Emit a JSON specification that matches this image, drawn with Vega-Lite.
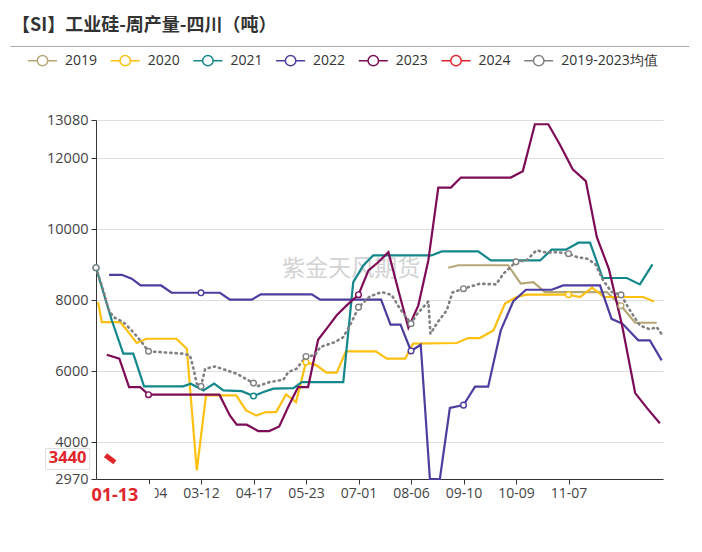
{
  "$schema": "https://vega.github.io/schema/vega-lite/v6.json",
  "width": 567,
  "height": 359,
  "autosize": {"type": "none"},
  "padding": {"left": 96, "top": 120, "right": 39, "bottom": 73},
  "background": "white",
  "config": {"view": {"stroke": null}, "font": "Open Sans"},
  "title": {
    "text": "【SI】工业硅-周产量-四川（吨）",
    "anchor": "start",
    "frame": "group",
    "font": "Noto Sans CJK SC",
    "fontSize": 18,
    "fontWeight": "bold",
    "color": "#333333",
    "dx": -84,
    "offset": 10
  },
  "datasets": {
    "series": [
      {"s": "2019", "i": 67.1, "v": 8920}, {"s": "2019", "i": 69.0, "v": 8990}, {"s": "2019", "i": 78.5, "v": 8990},
      {"s": "2019", "i": 80.9, "v": 8470}, {"s": "2019", "i": 83.3, "v": 8515}, {"s": "2019", "i": 85.5, "v": 8235},
      {"s": "2019", "i": 97.3, "v": 8235}, {"s": "2019", "i": 100, "v": 7850}, {"s": "2019", "i": 102.7, "v": 7370},
      {"s": "2019", "i": 106.8, "v": 7370},

      {"s": "2020", "i": 0.4, "v": 7950}, {"s": "2020", "i": 1.1, "v": 7390}, {"s": "2020", "i": 4.6, "v": 7390},
      {"s": "2020", "i": 5.8, "v": 7175}, {"s": "2020", "i": 7.75, "v": 6800}, {"s": "2020", "i": 9.65, "v": 6920},
      {"s": "2020", "i": 15.3, "v": 6920}, {"s": "2020", "i": 17.3, "v": 6640}, {"s": "2020", "i": 19.2, "v": 3210},
      {"s": "2020", "i": 20.95, "v": 5325}, {"s": "2020", "i": 26.7, "v": 5325}, {"s": "2020", "i": 28.6, "v": 4900},
      {"s": "2020", "i": 30.5, "v": 4760}, {"s": "2020", "i": 32.4, "v": 4855}, {"s": "2020", "i": 34.3, "v": 4855},
      {"s": "2020", "i": 36.2, "v": 5350}, {"s": "2020", "i": 38.1, "v": 5135}, {"s": "2020", "i": 40, "v": 6260},
      {"s": "2020", "i": 42.0, "v": 6170}, {"s": "2020", "i": 43.9, "v": 5965}, {"s": "2020", "i": 45.85, "v": 5965},
      {"s": "2020", "i": 47.6, "v": 6565}, {"s": "2020", "i": 53.3, "v": 6565}, {"s": "2020", "i": 55.4, "v": 6360},
      {"s": "2020", "i": 58.9, "v": 6360}, {"s": "2020", "i": 60.4, "v": 6780}, {"s": "2020", "i": 68.7, "v": 6800},
      {"s": "2020", "i": 70.9, "v": 6940}, {"s": "2020", "i": 73.1, "v": 6940}, {"s": "2020", "i": 75.7, "v": 7155},
      {"s": "2020", "i": 77.9, "v": 7910}, {"s": "2020", "i": 80.1, "v": 8095}, {"s": "2020", "i": 82.0, "v": 8160},
      {"s": "2020", "i": 90, "v": 8160}, {"s": "2020", "i": 92.2, "v": 8095}, {"s": "2020", "i": 94.5, "v": 8360},
      {"s": "2020", "i": 96.8, "v": 8095}, {"s": "2020", "i": 104.2, "v": 8095}, {"s": "2020", "i": 106.3, "v": 7970},

      {"s": "2021", "i": 0, "v": 8920}, {"s": "2021", "i": 3.0, "v": 7440}, {"s": "2021", "i": 5.2, "v": 6500},
      {"s": "2021", "i": 7.1, "v": 6500}, {"s": "2021", "i": 9.15, "v": 5580}, {"s": "2021", "i": 16.6, "v": 5580},
      {"s": "2021", "i": 18.05, "v": 5655}, {"s": "2021", "i": 20.45, "v": 5465}, {"s": "2021", "i": 22.5, "v": 5655},
      {"s": "2021", "i": 24.25, "v": 5465}, {"s": "2021", "i": 27.75, "v": 5445}, {"s": "2021", "i": 30, "v": 5305},
      {"s": "2021", "i": 31.9, "v": 5420}, {"s": "2021", "i": 33.8, "v": 5515}, {"s": "2021", "i": 37.6, "v": 5530},
      {"s": "2021", "i": 39.2, "v": 5700}, {"s": "2021", "i": 47.1, "v": 5700}, {"s": "2021", "i": 49.0, "v": 8515},
      {"s": "2021", "i": 50.9, "v": 8985}, {"s": "2021", "i": 52.8, "v": 9265}, {"s": "2021", "i": 63.9, "v": 9265},
      {"s": "2021", "i": 65.85, "v": 9380}, {"s": "2021", "i": 72.8, "v": 9380}, {"s": "2021", "i": 75.2, "v": 9125},
      {"s": "2021", "i": 84.6, "v": 9125}, {"s": "2021", "i": 86.8, "v": 9430}, {"s": "2021", "i": 89.5, "v": 9430},
      {"s": "2021", "i": 91.9, "v": 9625}, {"s": "2021", "i": 94.1, "v": 9625}, {"s": "2021", "i": 96.5, "v": 8630},
      {"s": "2021", "i": 101.1, "v": 8630}, {"s": "2021", "i": 103.6, "v": 8450}, {"s": "2021", "i": 106.0, "v": 9015},

      {"s": "2022", "i": 2.5, "v": 8720}, {"s": "2022", "i": 4.9, "v": 8720}, {"s": "2022", "i": 6.8, "v": 8610},
      {"s": "2022", "i": 8.5, "v": 8420}, {"s": "2022", "i": 12.4, "v": 8420}, {"s": "2022", "i": 14.4, "v": 8215},
      {"s": "2022", "i": 20, "v": 8215}, {"s": "2022", "i": 23.6, "v": 8215}, {"s": "2022", "i": 25.5, "v": 8020},
      {"s": "2022", "i": 29.65, "v": 8020}, {"s": "2022", "i": 31.4, "v": 8170}, {"s": "2022", "i": 41.1, "v": 8170},
      {"s": "2022", "i": 42.7, "v": 8020}, {"s": "2022", "i": 54.3, "v": 8020}, {"s": "2022", "i": 56.1, "v": 7315},
      {"s": "2022", "i": 58.0, "v": 7315}, {"s": "2022", "i": 60, "v": 6575}, {"s": "2022", "i": 61.85, "v": 6750},
      {"s": "2022", "i": 63.6, "v": 2970}, {"s": "2022", "i": 65.5, "v": 2970}, {"s": "2022", "i": 67.4, "v": 4970},
      {"s": "2022", "i": 70, "v": 5050}, {"s": "2022", "i": 72.2, "v": 5570}, {"s": "2022", "i": 74.7, "v": 5570},
      {"s": "2022", "i": 77.1, "v": 7155}, {"s": "2022", "i": 79.5, "v": 7980}, {"s": "2022", "i": 81.9, "v": 8300},
      {"s": "2022", "i": 86.8, "v": 8300}, {"s": "2022", "i": 89.0, "v": 8420}, {"s": "2022", "i": 96.0, "v": 8420},
      {"s": "2022", "i": 98.2, "v": 7480}, {"s": "2022", "i": 100.3, "v": 7340}, {"s": "2022", "i": 103.3, "v": 6875},
      {"s": "2022", "i": 105.5, "v": 6875}, {"s": "2022", "i": 107.75, "v": 6310},

      {"s": "2023", "i": 2.05, "v": 6470}, {"s": "2023", "i": 4.45, "v": 6360}, {"s": "2023", "i": 6.3, "v": 5560},
      {"s": "2023", "i": 8.4, "v": 5560}, {"s": "2023", "i": 10, "v": 5345}, {"s": "2023", "i": 23.5, "v": 5345},
      {"s": "2023", "i": 25.5, "v": 4760}, {"s": "2023", "i": 26.8, "v": 4500}, {"s": "2023", "i": 28.7, "v": 4500},
      {"s": "2023", "i": 30.9, "v": 4320}, {"s": "2023", "i": 33.0, "v": 4320}, {"s": "2023", "i": 34.9, "v": 4450},
      {"s": "2023", "i": 36.6, "v": 4995}, {"s": "2023", "i": 38.5, "v": 5560}, {"s": "2023", "i": 40.4, "v": 5560},
      {"s": "2023", "i": 42.3, "v": 6890}, {"s": "2023", "i": 43.9, "v": 7200}, {"s": "2023", "i": 45.85, "v": 7580},
      {"s": "2023", "i": 47.75, "v": 7860}, {"s": "2023", "i": 50, "v": 8160}, {"s": "2023", "i": 51.9, "v": 8845},
      {"s": "2023", "i": 53.8, "v": 9080}, {"s": "2023", "i": 55.7, "v": 9360}, {"s": "2023", "i": 57.6, "v": 8280},
      {"s": "2023", "i": 59.5, "v": 7230}, {"s": "2023", "i": 61.4, "v": 7860}, {"s": "2023", "i": 63.3, "v": 9125},
      {"s": "2023", "i": 65.2, "v": 11175}, {"s": "2023", "i": 67.6, "v": 11175}, {"s": "2023", "i": 69.5, "v": 11460},
      {"s": "2023", "i": 79.0, "v": 11460}, {"s": "2023", "i": 81.3, "v": 11640}, {"s": "2023", "i": 83.6, "v": 12960},
      {"s": "2023", "i": 86.15, "v": 12960}, {"s": "2023", "i": 88.4, "v": 12375}, {"s": "2023", "i": 90.8, "v": 11690},
      {"s": "2023", "i": 93.3, "v": 11360}, {"s": "2023", "i": 95.4, "v": 9780}, {"s": "2023", "i": 97.7, "v": 8880},
      {"s": "2023", "i": 100.2, "v": 7300}, {"s": "2023", "i": 102.7, "v": 5390}, {"s": "2023", "i": 105.0, "v": 4960},
      {"s": "2023", "i": 107.4, "v": 4540},

      {"s": "2024", "i": 1.8, "v": 3640}, {"s": "2024", "i": 3.6, "v": 3440},

      {"s": "2019-2023均值", "i": 0, "v": 8920}, {"s": "2019-2023均值", "i": 1.4, "v": 8280},
      {"s": "2019-2023均值", "i": 2.35, "v": 7765}, {"s": "2019-2023均值", "i": 3.3, "v": 7530},
      {"s": "2019-2023均值", "i": 5.2, "v": 7390}, {"s": "2019-2023均值", "i": 7.1, "v": 7105},
      {"s": "2019-2023均值", "i": 8.7, "v": 6825}, {"s": "2019-2023均值", "i": 10, "v": 6565},
      {"s": "2019-2023均值", "i": 16.6, "v": 6500}, {"s": "2019-2023均值", "i": 17.9, "v": 6450},
      {"s": "2019-2023均值", "i": 18.5, "v": 6120}, {"s": "2019-2023均值", "i": 19.2, "v": 5655},
      {"s": "2019-2023均值", "i": 20, "v": 5580}, {"s": "2019-2023均值", "i": 20.8, "v": 6075},
      {"s": "2019-2023均值", "i": 22.7, "v": 6140}, {"s": "2019-2023均值", "i": 24.9, "v": 6030},
      {"s": "2019-2023均值", "i": 26.8, "v": 5935}, {"s": "2019-2023均值", "i": 30, "v": 5670},
      {"s": "2019-2023均值", "i": 30.9, "v": 5590}, {"s": "2019-2023均值", "i": 33.1, "v": 5700},
      {"s": "2019-2023均值", "i": 35.7, "v": 5765}, {"s": "2019-2023均值", "i": 36.6, "v": 5980},
      {"s": "2019-2023均值", "i": 38.2, "v": 6075}, {"s": "2019-2023均值", "i": 40, "v": 6420},
      {"s": "2019-2023均值", "i": 41.7, "v": 6450}, {"s": "2019-2023均值", "i": 42.7, "v": 6685},
      {"s": "2019-2023均值", "i": 45.5, "v": 6825}, {"s": "2019-2023均值", "i": 47.1, "v": 6965},
      {"s": "2019-2023均值", "i": 48.7, "v": 7390}, {"s": "2019-2023均值", "i": 50, "v": 7810},
      {"s": "2019-2023均值", "i": 52.2, "v": 8115}, {"s": "2019-2023均值", "i": 54.4, "v": 8235},
      {"s": "2019-2023均值", "i": 56.3, "v": 8155}, {"s": "2019-2023均值", "i": 57.9, "v": 7765},
      {"s": "2019-2023均值", "i": 60, "v": 7345}, {"s": "2019-2023均值", "i": 61.1, "v": 7605},
      {"s": "2019-2023均值", "i": 63.3, "v": 7970}, {"s": "2019-2023均值", "i": 63.7, "v": 7060},
      {"s": "2019-2023均值", "i": 65.05, "v": 7380}, {"s": "2019-2023均值", "i": 66.8, "v": 7720},
      {"s": "2019-2023均值", "i": 67.9, "v": 8225}, {"s": "2019-2023均值", "i": 70, "v": 8330},
      {"s": "2019-2023均值", "i": 73.1, "v": 8470}, {"s": "2019-2023均值", "i": 76.2, "v": 8450},
      {"s": "2019-2023均值", "i": 77.6, "v": 8750}, {"s": "2019-2023均值", "i": 80, "v": 9085},
      {"s": "2019-2023均值", "i": 82.0, "v": 9125}, {"s": "2019-2023均值", "i": 83.9, "v": 9410},
      {"s": "2019-2023均值", "i": 85.8, "v": 9345}, {"s": "2019-2023均值", "i": 87.75, "v": 9360},
      {"s": "2019-2023均值", "i": 90, "v": 9315}, {"s": "2019-2023均值", "i": 91.6, "v": 9220},
      {"s": "2019-2023均值", "i": 93.5, "v": 9175}, {"s": "2019-2023均值", "i": 95.05, "v": 9035},
      {"s": "2019-2023均值", "i": 96.6, "v": 8565}, {"s": "2019-2023均值", "i": 98.2, "v": 8240},
      {"s": "2019-2023均值", "i": 100, "v": 8155}, {"s": "2019-2023均值", "i": 101.7, "v": 7720},
      {"s": "2019-2023均值", "i": 103.6, "v": 7295}, {"s": "2019-2023均值", "i": 105.5, "v": 7185},
      {"s": "2019-2023均值", "i": 106.8, "v": 7250}, {"s": "2019-2023均值", "i": 107.8, "v": 7040}
    ],
    "annot": [{}]
  },
  "layer": [
    {
      "data": {"name": "annot"},
      "mark": {"type": "rule", "color": "#aaaaaa", "strokeWidth": 1},
      "encoding": {
        "x": {"datum": -16.3, "type": "quantitative", "title": null},
        "x2": {"datum": 113},
        "y": {"datum": 15150, "type": "quantitative", "title": null}
      }
    },
    {
      "data": {"name": "annot"},
      "mark": {"type": "text", "text": "紫金天风期货", "font": "Noto Sans CJK SC", "fontSize": 23, "color": "#d3d3d3", "align": "center", "baseline": "middle"},
      "encoding": {
        "x": {"datum": 48.6, "type": "quantitative", "title": null},
        "y": {"datum": 8880, "type": "quantitative", "title": null}
      }
    },
    {
      "data": {"name": "series"},
      "transform": [{"filter": "datum.s !== '2024' && datum.s !== '2019-2023均值'"}],
      "mark": {"type": "line", "strokeWidth": 2.2, "interpolate": "linear"},
      "encoding": {
        "x": {
          "field": "i", "type": "quantitative", "title": null,
          "scale": {"domain": [0, 108], "nice": false, "zero": false},
          "axis": {
            "values": [10, 20, 30, 40, 50, 60, 70, 80, 90],
            "labelExpr": "['01-01','02-04','03-12','04-17','05-23','07-01','08-06','09-10','10-09','11-07','12-06'][round(datum.value / 10)]",
            "grid": false, "domainColor": "#333333", "tickColor": "#333333", "tickSize": 5,
            "labelFontSize": 14, "labelColor": "#444444", "labelPadding": 2, "labelFont": "Open Sans",
            "labelFlush": false, "labelOverlap": false
          }
        },
        "y": {
          "field": "v", "type": "quantitative", "title": null,
          "scale": {"domain": [2970, 13080], "nice": false, "zero": false},
          "axis": {
            "values": [2970, 4000, 6000, 8000, 10000, 12000, 13080],
            "format": "d",
            "grid": true, "gridColor": "#dddddd", "gridWidth": 1.2,
            "domainColor": "#333333", "tickColor": "#333333", "tickSize": 5,
            "labelFontSize": 14.5, "labelColor": "#444444", "labelPadding": 3, "labelFont": "Open Sans",
            "labelFlush": false, "labelOverlap": false
          }
        },
        "color": {
          "field": "s", "type": "nominal",
          "scale": {
            "domain": ["2019", "2020", "2021", "2022", "2023", "2024", "2019-2023均值"],
            "range": ["#b5a775", "#fdc010", "#13878b", "#4e3d9f", "#7d0b56", "#e0262c", "#808080"]
          },
          "legend": {
            "orient": "none", "legendX": -69, "legendY": -75, "direction": "horizontal", "columns": 7,
            "title": null,
            "symbolType": "M-1,0L-0.36,0M0.36,0L1,0M0.36,0A0.36,0.36,0,1,1,-0.36,0A0.36,0.36,0,1,1,0.36,0",
            "symbolSize": 841, "symbolStrokeWidth": 1.5, "symbolFillColor": "white",
            "labelFontSize": 14, "labelColor": "#333333", "labelFont": "Open Sans",
            "labelOffset": 7, "columnPadding": 9.7
          }
        }
      }
    },
    {
      "data": {"name": "series"},
      "transform": [{"filter": "datum.s === '2019-2023均值'"}],
      "mark": {"type": "line", "strokeWidth": 2.6, "strokeDash": [1.2, 4.2], "strokeCap": "round"},
      "encoding": {
        "x": {"field": "i", "type": "quantitative", "title": null},
        "y": {"field": "v", "type": "quantitative", "title": null},
        "color": {"field": "s", "type": "nominal"}
      }
    },
    {
      "data": {"name": "series"},
      "transform": [{"filter": "datum.s === '2024'"}],
      "mark": {"type": "line", "strokeWidth": 5},
      "encoding": {
        "x": {"field": "i", "type": "quantitative", "title": null},
        "y": {"field": "v", "type": "quantitative", "title": null},
        "color": {"field": "s", "type": "nominal"}
      }
    },
    {
      "data": {"name": "series"},
      "transform": [{"filter": "datum.s !== '2024' && datum.i % 10 === 0"}],
      "mark": {"type": "point", "filled": false, "fill": "white", "fillOpacity": 1, "opacity": 1, "size": 32, "strokeWidth": 1.4},
      "encoding": {
        "x": {"field": "i", "type": "quantitative", "title": null},
        "y": {"field": "v", "type": "quantitative", "title": null},
        "color": {"field": "s", "type": "nominal"}
      }
    },
    {
      "data": {"name": "annot"},
      "mark": {"type": "rect", "color": "white"},
      "encoding": {
        "x": {"datum": -1.8, "type": "quantitative", "title": null},
        "x2": {"datum": 11.2},
        "y": {"datum": 2820, "type": "quantitative", "title": null},
        "y2": {"datum": 2150}
      }
    },
    {
      "data": {"name": "annot"},
      "mark": {"type": "text", "text": "01-13", "fontSize": 18, "fontWeight": "bold", "color": "#e0262c", "font": "Open Sans", "align": "center", "baseline": "middle", "dy": 17},
      "encoding": {
        "x": {"datum": 3.6, "type": "quantitative", "title": null},
        "y": {"datum": 2970, "type": "quantitative", "title": null}
      }
    },
    {
      "data": {"name": "annot"},
      "mark": {"type": "rect", "fill": "white", "stroke": "#dddddd", "strokeWidth": 1},
      "encoding": {
        "x": {"datum": -9.6, "type": "quantitative", "title": null},
        "x2": {"datum": -1.2},
        "y": {"datum": 3830, "type": "quantitative", "title": null},
        "y2": {"datum": 3240}
      }
    },
    {
      "data": {"name": "annot"},
      "mark": {"type": "text", "text": "3440", "fontSize": 16.5, "fontWeight": "bold", "color": "#e0262c", "font": "Open Sans", "align": "center", "baseline": "middle", "dy": -4},
      "encoding": {
        "x": {"datum": -5.4, "type": "quantitative", "title": null},
        "y": {"datum": 3440, "type": "quantitative", "title": null}
      }
    }
  ]
}
